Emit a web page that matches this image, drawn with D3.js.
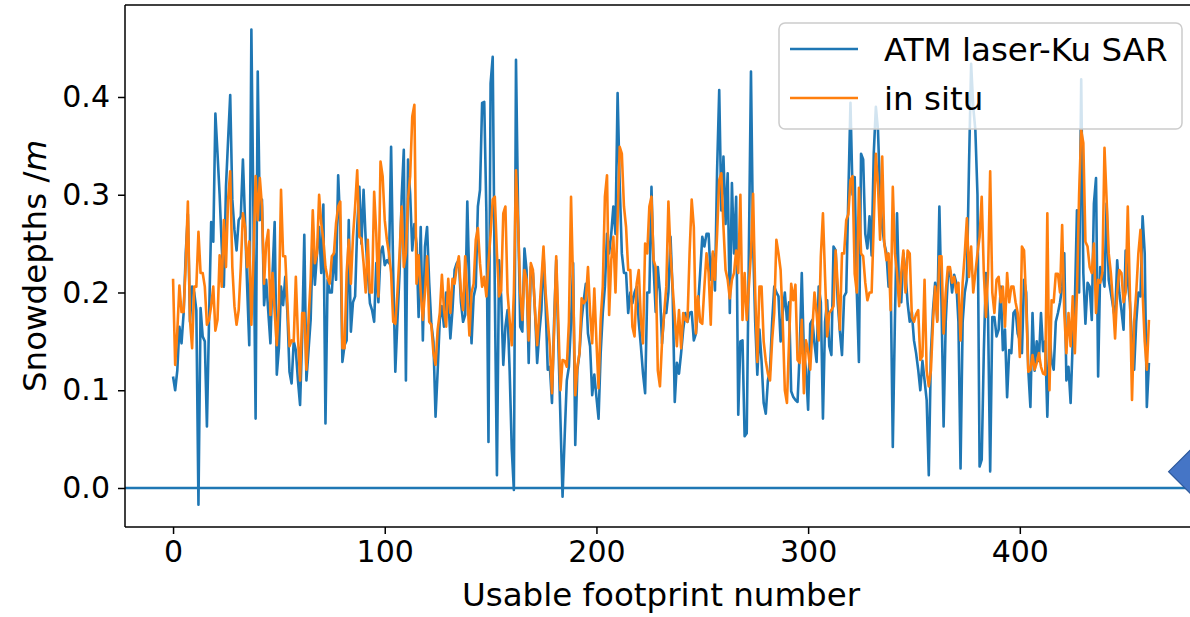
<!DOCTYPE html>
<html><head><meta charset="utf-8">
<script src="https://cdn.jsdelivr.net/npm/d3@7"></script>
<style>body{margin:0;background:#fff}svg{display:block}text{font-family:"DejaVu Sans",sans-serif}</style>
</head><body><svg id="c" width="1190" height="617"></svg>
<script>
// ATM laser-Ku SAR snow depths (m), footprint index 0..461, in segments
const atm0 = [.114,.10,.12,.165,.148,.179,.24,.28,.17,.206,.2,.182,-.017,.184,.155,.15,.063,.172,.272,.252,.383,.342,.30,.247,.206,.308,.356,.402,.295,.264,.243,.274,.278,.336,.274,.206,.146,.469,.274,.071,.426,.274,.295,.187];
const atm1 = [.213,.18,.148,.22,.272,.116,.143,.206,.187,.216,.18,.119,.107,.15,.141,.11,.085,.155,.259,.11,.141,.172,.252,.208,.24,.267,.22,.29,.066,.213,.2,.2,.24,.213,.32,.267,.129,.146,.151,.274,.16,.19,.196,.267,.308,.25];
const atm2 = [.305,.254,.22,.189,.182,.17,.23,.19,.24,.247,.228,.233,.23,.349,.22,.119,.172,.22,.298,.346,.11,.336,.301,.243,.27,.25,.175,.267,.151,.247,.267,.21,.168,.15,.073,.12,.172,.186,.165,.2,.196,.153,.182,.223,.23,.233,.19];
const atm3 = [.17,.177,.293,.206,.148,.196,.206,.288,.305,.394,.395,.283,.047,.414,.441,.2,.013,.233,.196,.126,.165,.182,.12,.04,-.002,.438,.28,.165,.16,.245,.223,.128,.226,.22,.18,.128,.158,.182,.24,.186,.121,.124,.087,.17,.233];
const atm4 = [.15,.07,-.009,.053,.11,.124,.17,.23,.044,.121,.138,.172,.192,.209,.158,.145,.095,.116,.093,.071,.138,.179,.206,.26,.24,.26,.288,.26,.404,.31,.24,.22,.22,.179,.2,.189,.2,.206,.17,.145,.117,.097,.2,.2,.308,.226,.18];
const atm5 = [.226,.2,.148,.179,.179,.2,.257,.2,.088,.128,.117,.138,.162,.179,.17,.179,.18,.151,.158,.186,.22,.257,.247,.26,.26,.213,.24,.202,.325,.407,.284,.339,.27,.322,.179,.312,.24,.298,.075,.15,.151,.053,.056,.24,.426,.25];
const atm6 = [.17,.116,.162,.13,.087,.076,.11,.121,.17,.206,.2,.196,.15,.18,.2,.172,.19,.099,.093,.09,.088,.138,.22,.138,.121,.08,.168,.172,.148,.129,.206,.19,.071,.17,.192,.145,.136,.247,.243,.189,.16,.136,.196,.2,.3];
const atm7 = [.394,.30,.318,.2,.129,.342,.336,.26,.245,.278,.238,.342,.39,.366,.3,.267,.25,.24,.206,.21,.042,.172,.281,.196,.19,.24,.22,.189,.17,.18,.151,.138,.121,.1,.13,.11,.09,.013,.138,.182,.21,.172,.288,.19,.063,.17,.216,.223];
const atm8 = [.2,.218,.21,.17,.02,.17,.2,.213,.33,.434,.39,.366,.3,.022,.029,.14,.22,.175,.017,.175,.175,.155,.162,.206,.141,.162,.093,.141,.138,.179,.182,.158,.151,.138,.213,.2,.121,.083,.179,.12,.15,.13,.179,.14,.15,.073];
const atm9 = [.16,.13,.121,.17,.179,.19,.206,.24,.11,.124,.087,.15,.189,.284,.2,.418,.22,.168,.21,.206,.172,.291,.317,.114,.226,.22,.206,.291,.213,.2,.186,.172,.233,.2,.182,.162,.243,.213,.19,.15,.121,.17,.2,.196,.278,.24,.083,.128];
// in situ snow depths (m)
const situ0 = [.214,.126,.16,.207,.18,.18,.23,.293,.172,.143,.206,.206,.262,.22,.22,.206,.167,.172,.186,.206,.161,.172,.238,.206,.274,.226,.295,.324,.226,.186,.167,.182,.226,.281,.267,.226,.252,.167,.238,.319,.274,.317,.288,.209];
const situ1 = [.25,.264,.177,.22,.18,.146,.189,.305,.237,.237,.19,.145,.151,.15,.216,.155,.11,.179,.179,.121,.172,.213,.284,.23,.24,.3,.271,.254,.226,.215,.209,.237,.24,.271,.288,.293,.143,.143,.22,.254,.209,.257,.288,.325,.257,.255];
const situ2 = [.23,.2,.254,.2,.2,.303,.26,.196,.334,.319,.274,.254,.24,.22,.17,.168,.2,.24,.288,.226,.24,.295,.319,.38,.392,.209,.238,.2,.172,.2,.237,.17,.167,.138,.126,.162,.179,.218,.182,.165,.214,.179,.214,.209,.226,.237,.2];
const situ3 = [.182,.237,.196,.156,.2,.209,.254,.266,.23,.206,.216,.196,.23,.26,.295,.298,.24,.196,.202,.281,.288,.2,.172,.146,.2,.325,.27,.2,.172,.223,.213,.151,.23,.223,.18,.146,.179,.213,.247,.2,.172,.145,.097,.16,.237];
const situ4 = [.17,.1,.131,.13,.124,.17,.298,.206,.095,.124,.138,.194,.189,.192,.226,.18,.148,.204,.15,.102,.172,.206,.298,.32,.177,.233,.257,.2,.274,.349,.342,.288,.267,.223,.223,.165,.155,.209,.223,.172,.148,.25,.24,.288,.298,.233,.226];
const situ5 = [.12,.104,.15,.179,.206,.293,.24,.206,.175,.145,.182,.143,.179,.172,.17,.24,.295,.267,.158,.196,.17,.168,.206,.24,.22,.167,.242,.213,.26,.315,.322,.267,.223,.213,.194,.213,.22,.243,.22,.3,.172,.22,.172,.206,.24,.301];
const situ6 = [.2,.129,.206,.206,.15,.13,.117,.11,.151,.179,.254,.24,.223,.17,.1,.087,.15,.209,.192,.208,.131,.128,.172,.097,.151,.14,.121,.162,.2,.179,.151,.237,.281,.216,.155,.179,.182,.186,.243,.206,.162,.24,.24,.274,.28,.315,.319];
const situ7 = [.219,.2,.307,.24,.237,.21,.192,.2,.2,.27,.342,.31,.254,.339,.25,.233,.24,.182,.308,.24,.22,.186,.22,.243,.2,.243,.24,.175,.17,.178,.182,.131,.135,.213,.12,.104,.12,.17,.206,.17,.237,.237,.158,.2,.226,.226];
const situ8 = [.21,.216,.2,.21,.151,.21,.24,.276,.216,.247,.2,.22,.24,.257,.298,.22,.175,.22,.324,.2,.179,.213,.216,.19,.206,.165,.22,.19,.206,.206,.19,.179,.134,.247,.243,.19,.119,.121,.136,.121,.128,.138,.124,.117,.116];
const situ9 = [.281,.1,.192,.19,.219,.219,.2,.269,.179,.138,.179,.145,.196,.138,.2,.3,.366,.353,.252,.247,.226,.22,.25,.179,.213,.21,.22,.348,.295,.24,.22,.19,.153,.2,.223,.22,.19,.2,.288,.2,.09,.17,.2,.24,.264,.2,.15,.121,.172];

const xTicks = [0, 100, 200, 300, 400];
const yTicks = [0.0, 0.1, 0.2, 0.3, 0.4];
const yTickLabels = ["0.0", "0.1", "0.2", "0.3", "0.4"];
const seriesNames = ["ATM laser-Ku SAR", "in situ"];
const baselineValue = 0.0;
const flagPoint = [470.3, 0.0167];

const atm = [].concat(atm0, atm1, atm2, atm3, atm4, atm5, atm6, atm7, atm8, atm9);
const situ = [].concat(situ0, situ1, situ2, situ3, situ4, situ5, situ6, situ7, situ8, situ9);

const L = 125, R = 1197, T = 5, B = 527;
const FS = 30, FL = 32.5;
const blue = "#1f77b4", orange = "#ff7f0e";
const svg = d3.select("#c");
const x = d3.scaleLinear().domain([-22.7, 483.7]).range([L, R]);
const y = d3.scaleLinear().domain([-0.0399, 0.4941]).range([B, T]);

svg.append("defs").append("clipPath").attr("id", "clip")
  .append("rect").attr("x", L).attr("y", T).attr("width", R - L).attr("height", B - T);
const plot = svg.append("g").attr("clip-path", "url(#clip)");

const line = d3.line().x((d, i) => x(i)).y(d => y(d));
plot.append("path").datum(atm).attr("d", line).attr("fill", "none")
  .attr("stroke", blue).attr("stroke-width", 2.6).attr("stroke-linejoin", "round");
plot.append("path").datum(situ).attr("d", line).attr("fill", "none")
  .attr("stroke", orange).attr("stroke-width", 2.6).attr("stroke-linejoin", "round");
plot.append("line").attr("x1", L).attr("x2", R).attr("y1", y(baselineValue)).attr("y2", y(baselineValue))
  .attr("stroke", blue).attr("stroke-width", 2.6);
// left-pointing triangle marker (tip at flagPoint)
const mx = x(flagPoint[0]), my = y(flagPoint[1]), mr = 34;
svg.append("path").attr("d", `M${mx},${my}L${mx + mr},${my - mr}L${mx + mr},${my + mr}Z`)
  .attr("fill", "#4575c6").attr("stroke", "#2e5a9c").attr("stroke-width", 1.2);

// axes
const xAxis = d3.axisBottom(x).tickValues(xTicks).tickSize(7).tickPadding(7).tickFormat(d3.format("d"));
const gx = svg.append("g").attr("transform", `translate(0,${B})`).call(xAxis);
const yAxis = d3.axisLeft(y).tickValues(yTicks).tickSize(7).tickPadding(8).tickFormat((d, i) => yTickLabels[i]);
const gy = svg.append("g").attr("transform", `translate(${L},0)`).call(yAxis);
[gx, gy].forEach(g => {
  g.select(".domain").remove();
  g.selectAll(".tick line").attr("stroke", "#000").attr("stroke-width", 1.5);
  g.selectAll(".tick text").attr("font-size", FS).attr("fill", "#000").attr("font-family", "DejaVu Sans");
});
// spines
const sp = svg.append("g").attr("stroke", "#000").attr("stroke-width", 1.5);
sp.append("line").attr("x1", L).attr("x2", L).attr("y1", T).attr("y2", B);
sp.append("line").attr("x1", L).attr("x2", R).attr("y1", B).attr("y2", B);
sp.append("line").attr("x1", L).attr("x2", R).attr("y1", T).attr("y2", T);
sp.append("line").attr("x1", R).attr("x2", R).attr("y1", T).attr("y2", B);

// axis labels
svg.append("text").attr("x", (L + R) / 2).attr("y", 606).attr("text-anchor", "middle")
  .attr("font-size", FL).text("Usable footprint number");
const yl = svg.append("text").attr("transform", `translate(46,${(T + B) / 2}) rotate(-90)`)
  .attr("text-anchor", "middle").attr("font-size", FL);
yl.append("tspan").text("Snowdepths /");
yl.append("tspan").attr("font-style", "italic").text("m");

// legend
const lg = svg.append("g");
lg.append("rect").attr("x", 779).attr("y", 23).attr("width", 403).attr("height", 106).attr("rx", 6)
  .attr("fill", "#fff").attr("fill-opacity", 0.8).attr("stroke", "#ccc").attr("stroke-width", 1.5);
[blue, orange].forEach((c, i) => {
  const yy = 49 + i * 49;
  lg.append("line").attr("x1", 790).attr("x2", 858).attr("y1", yy).attr("y2", yy)
    .attr("stroke", c).attr("stroke-width", 2.6);
  lg.append("text").attr("x", 884).attr("y", yy + 12).attr("font-size", FL).text(seriesNames[i]);
});
</script></body></html>
